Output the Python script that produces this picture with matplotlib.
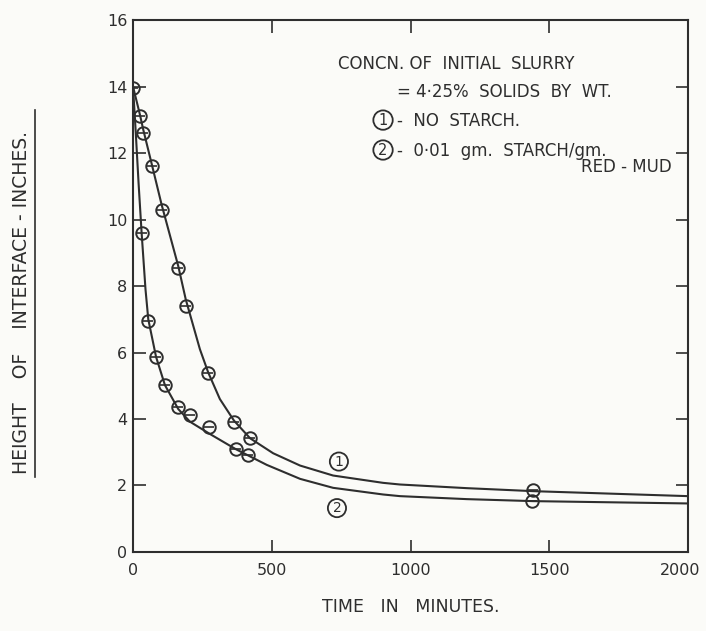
import matplotlib.pyplot as plt
import matplotlib.transforms as mtrans
from matplotlib.lines import Line2D

# experimental points, no starch (1)
t1 = [0, 25, 37, 68, 103, 163, 190, 271, 364, 422, 1442]
h1 = [13.95, 13.1, 12.6, 11.6, 10.3, 8.55, 7.4, 5.38, 3.9, 3.42, 1.86]
# experimental points, 0.01 gm starch/gm red mud (2)
t2 = [31, 55, 83, 115, 163, 205, 274, 371, 415, 1438]
h2 = [9.6, 6.95, 5.87, 5.02, 4.35, 4.12, 3.77, 3.1, 2.92, 1.53]

# smoothed settling curves as drawn through the points
c1_t = [0, 25, 37, 68, 103, 163, 190, 241, 271, 313, 364, 422, 505, 602, 721, 901, 962, 1203, 1442, 2000]
c1_h = [14.0, 13.15, 12.7, 11.65, 10.45, 8.6, 7.6, 6.1, 5.4, 4.6, 3.95, 3.42, 2.97, 2.6, 2.3, 2.08, 2.03, 1.92, 1.83, 1.68]
c2_t = [0, 10, 20, 31, 45, 55, 83, 115, 163, 205, 277, 371, 482, 602, 721, 901, 962, 1203, 1442, 2000]
c2_h = [14.0, 12.6, 11.1, 9.6, 7.9, 7.0, 5.87, 5.02, 4.3, 3.92, 3.55, 3.09, 2.62, 2.2, 1.93, 1.73, 1.68, 1.59, 1.53, 1.46]

ink = "#2e2e2e"
paper = "#fbfbf8"

fig = plt.figure(figsize=(7.06, 6.31), dpi=100, facecolor=paper)
ax = fig.add_axes([0.1884, 0.1252, 0.7861, 0.8431])
ax.set_facecolor(paper)

ax.plot(c1_t, c1_h, color=ink, lw=1.5)
ax.plot(c2_t, c2_h, color=ink, lw=1.5)
for tt, hh in ((t1, h1), (t2, h2)):
    ax.plot(tt, hh, ls="none", marker="o", ms=9, mfc="none", mec=ink, mew=1.4)
    ax.plot(tt, hh, ls="none", marker="_", ms=7, mec=ink, mew=1.2)

ax.set_xlim(0, 2000)
ax.set_ylim(0, 16)
ax.set_xticks([0, 500, 1000, 1500, 2000])
ax.set_yticks(range(0, 17, 2))
ax.tick_params(direction="in", length=9, width=1.2, top=True, right=True,
               colors=ink, labelsize=11.5, pad=8)
ax.tick_params(axis="y", pad=4)
for s in ax.spines.values():
    s.set_color(ink)
    s.set_linewidth(1.5)

# pull the last x label a little inside the figure
fig.canvas.draw()
last = ax.get_xticklabels()[-1]
last.set_transform(last.get_transform() + mtrans.ScaledTranslation(-6 / 72, 0, fig.dpi_scale_trans))

circ = dict(boxstyle="circle,pad=0.15", fc="none", ec=ink, lw=1.3)

# circled curve numbers
ax.text(742, 2.72, "1", ha="center", va="center", fontsize=10, color=ink, bbox=circ)
ax.text(735, 1.32, "2", ha="center", va="center", fontsize=10, color=ink, bbox=circ)

# notes block
kw = dict(color=ink, fontsize=12, va="center")
ax.text(739, 14.68, "CONCN. OF  INITIAL  SLURRY", **kw)
ax.text(951, 13.83, "= 4·25%  SOLIDS  BY  WT.", **kw)
ax.text(901, 12.99, "1", ha="center", va="center", fontsize=10.5, color=ink, bbox=circ)
ax.text(951, 12.96, "-  NO  STARCH.", **kw)
ax.text(901, 12.09, "2", ha="center", va="center", fontsize=10.5, color=ink, bbox=circ)
ax.text(951, 12.06, "-  0·01  gm.  STARCH/gm.", **kw)
ax.text(1942, 11.58, "RED - MUD", ha="right", color=ink, fontsize=12, va="center")

ax.set_xlabel("TIME   IN   MINUTES.", fontsize=12.5, color=ink, labelpad=14)
fig.text(0.03, 0.52, "HEIGHT    OF    INTERFACE - INCHES.", rotation=90,
         ha="center", va="center", fontsize=13.5, color=ink)
fig.add_artist(Line2D([0.05, 0.05], [0.244, 0.826], color=ink, lw=1.2))

fig.savefig("out.png", dpi=100, facecolor=paper)
